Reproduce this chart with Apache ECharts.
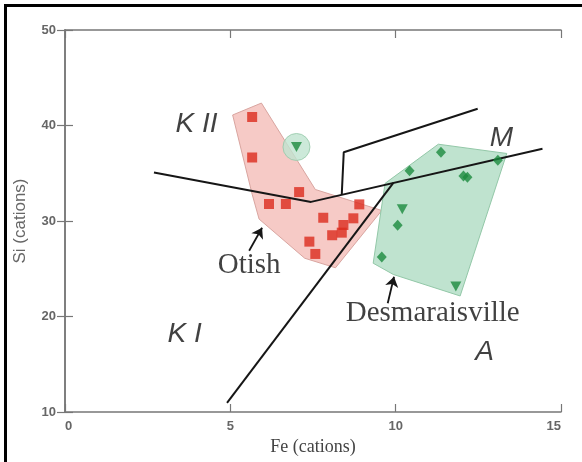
<!DOCTYPE html>
<html>
<head>
<meta charset="utf-8">
<script src="https://cdn.jsdelivr.net/npm/echarts@6/dist/echarts.min.js"></script>
<style>
  html, body { margin: 0; padding: 0; background: #fff; }
  #main { width: 582px; height: 462px; }
</style>
</head>
<body>
<div id="main"></div>
<script>
// Otish samples (red squares)
var otishFe = [5.66, 5.66, 6.17, 6.68, 7.08, 7.81, 8.90, 8.72, 8.42, 8.37, 8.08, 7.39, 7.57];
var otishSi = [40.89, 36.65, 31.78, 31.78, 33.03, 30.34, 31.74, 30.28, 29.58, 28.78, 28.51, 27.84, 26.55];

// Desmaraisville samples (green diamonds / triangles)
var desmFe = [11.37, 10.42, 12.05, 12.17, 13.09, 10.06, 9.58];
var desmSi = [37.21, 35.25, 34.70, 34.57, 36.37, 29.55, 26.24];
var triFe = [7.0, 10.20, 11.82];
var triSi = [37.75, 31.22, 23.14];

// field outlines
var otishHull = [[5.07, 41.1], [5.94, 42.35], [7.57, 33.3], [9.58, 31.1], [8.18, 25.1], [7.25, 26.1], [5.87, 30.2], [5.66, 32.8]];
var desmHull = [[9.68, 33.94], [11.29, 38.04], [13.36, 37.07], [11.95, 22.15], [9.93, 24.4], [9.32, 25.58]];
var circled = [[7.0, 37.75]];

// discrimination lines
var lineKM = [[2.69, 35.07], [7.44, 32.0], [14.44, 37.57]];
var lineM = [[8.37, 32.8], [8.43, 37.2], [12.48, 41.75]];
var lineKA = [[4.9, 10.95], [9.93, 33.99]];

// arrows
var arrowOtish = [[5.57, 26.89], [5.96, 29.29]];
var arrowDesm = [[9.76, 21.38], [9.95, 24.17]];

// labels
var zoneLabels = ['K II', 'K I', 'M', 'A'];
var zoneFe = [3.98, 3.62, 13.2, 12.69];
var zoneSi = [40.1, 18.1, 38.67, 16.27];
var siteLabels = ['Otish', 'Desmaraisville'];
var siteFe = [5.57, 11.12];
var siteSi = [25.3, 20.3];

var xTicks = [0, 5, 10, 15];
var yTicks = [10, 20, 30, 40, 50];

function pairs(xs, ys) {
    return xs.map(function (x, i) { return [x, ys[i]]; });
}

function hullSeries(points, fill, stroke) {
    return {
        type: 'custom',
        silent: true,
        z: 1,
        data: [[0, 0]],
        renderItem: function (params, api) {
            return {
                type: 'polygon',
                shape: { points: points.map(function (p) { return api.coord(p); }) },
                style: { fill: fill, stroke: stroke, lineWidth: 1 }
            };
        }
    };
}

function lineSeries(points) {
    return {
        type: 'line',
        data: points,
        symbol: 'none',
        silent: true,
        z: 3,
        lineStyle: { color: '#161616', width: 2 }
    };
}

var axisGray = '#777';
var tickLabel = { color: '#666', fontSize: 13, fontWeight: 'bold', fontFamily: 'Liberation Sans' };

var myChart = echarts.init(document.getElementById('main'));

var option = {
    animation: false,
    backgroundColor: '#fff',
    grid: { left: 65, right: 21, top: 30, bottom: 50 },
    graphic: [
        { type: 'rect', shape: { x: 4, y: 4, width: 3, height: 458 }, style: { fill: '#000' } },
        { type: 'rect', shape: { x: 4, y: 4, width: 578, height: 3 }, style: { fill: '#000' } }
    ],
    xAxis: [{
        type: 'value',
        min: xTicks[0], max: xTicks[xTicks.length - 1], interval: 5,
        name: 'Fe (cations)', nameLocation: 'middle', nameGap: 20,
        nameTextStyle: { color: '#444', fontSize: 18, fontFamily: 'Liberation Serif' },
        axisLine: { lineStyle: { color: axisGray, width: 1.5 } },
        axisTick: { inside: true, length: 8, lineStyle: { color: axisGray, width: 1.2 } },
        axisLabel: Object.assign({ margin: 8, alignMinLabel: 'left', alignMaxLabel: 'right' }, tickLabel),
        splitLine: { show: false }
    }, {
        type: 'value', position: 'top',
        min: xTicks[0], max: xTicks[xTicks.length - 1], interval: 5,
        axisLine: { lineStyle: { color: axisGray, width: 1.5 } },
        axisTick: { inside: true, length: 8, lineStyle: { color: axisGray, width: 1.2 } },
        axisLabel: { show: false },
        splitLine: { show: false }
    }],
    yAxis: [{
        type: 'value',
        min: yTicks[0], max: yTicks[yTicks.length - 1], interval: 10,
        name: 'Si (cations)', nameLocation: 'middle', nameGap: 36,
        nameTextStyle: { color: '#666', fontSize: 17, fontFamily: 'Liberation Sans' },
        axisLine: { lineStyle: { color: axisGray, width: 1.5 } },
        axisTick: { inside: true, length: 8, lineStyle: { color: axisGray, width: 1.2 } },
        axisLabel: Object.assign({ margin: 9 }, tickLabel),
        splitLine: { show: false }
    }, {
        type: 'value', position: 'right',
        min: yTicks[0], max: yTicks[yTicks.length - 1], interval: 10,
        axisLine: { lineStyle: { color: axisGray, width: 1.5 } },
        axisTick: { inside: true, length: 8, lineStyle: { color: axisGray, width: 1.2 } },
        axisLabel: { show: false },
        splitLine: { show: false }
    }],
    series: [
        hullSeries(otishHull, '#f6cac6', '#d9a5a0'),
        hullSeries(desmHull, '#bfe3cf', '#93c8a8'),
        {
            type: 'scatter', data: circled, symbol: 'circle', symbolSize: 27, silent: true, z: 2,
            itemStyle: { color: '#bfe3cf', borderColor: '#93c8a8', borderWidth: 1 }
        },
        lineSeries(lineKM),
        lineSeries(lineM),
        lineSeries(lineKA),
        {
            type: 'line', data: [], silent: true, z: 4,
            markLine: {
                silent: true,
                symbol: ['none', 'arrow'],
                symbolSize: 10,
                label: { show: false },
                lineStyle: { color: '#161616', width: 1.8, type: 'solid' },
                data: [
                    [{ coord: arrowOtish[0] }, { coord: arrowOtish[1] }],
                    [{ coord: arrowDesm[0] }, { coord: arrowDesm[1] }]
                ]
            }
        },
        {
            type: 'scatter', data: pairs(otishFe, otishSi), symbol: 'rect', symbolSize: 10, z: 5,
            itemStyle: { color: '#dc2a1d' }
        },
        {
            type: 'scatter', data: pairs(desmFe, desmSi), symbol: 'diamond', symbolSize: [10, 11], z: 5,
            itemStyle: { color: '#1c8a3d' }
        },
        {
            type: 'scatter', data: pairs(triFe, triSi), symbol: 'triangle', symbolRotate: 180, symbolSize: [11, 10], z: 5,
            itemStyle: { color: '#1c8a3d' }
        },
        {
            type: 'scatter', symbolSize: 0, silent: true, z: 6,
            data: zoneLabels.map(function (t, i) { return { value: [zoneFe[i], zoneSi[i]], name: t }; }),
            label: {
                show: true, position: 'inside', formatter: '{b}',
                color: '#111', fontSize: 28, fontStyle: 'italic', fontFamily: 'Liberation Sans'
            }
        },
        {
            type: 'scatter', symbolSize: 0, silent: true, z: 6,
            data: siteLabels.map(function (t, i) { return { value: [siteFe[i], siteSi[i]], name: t }; }),
            label: {
                show: true, position: 'inside', formatter: '{b}',
                color: '#111', fontSize: 29, fontFamily: 'Liberation Serif'
            }
        }
    ]
};

myChart.setOption(option);
</script>
</body>
</html>
